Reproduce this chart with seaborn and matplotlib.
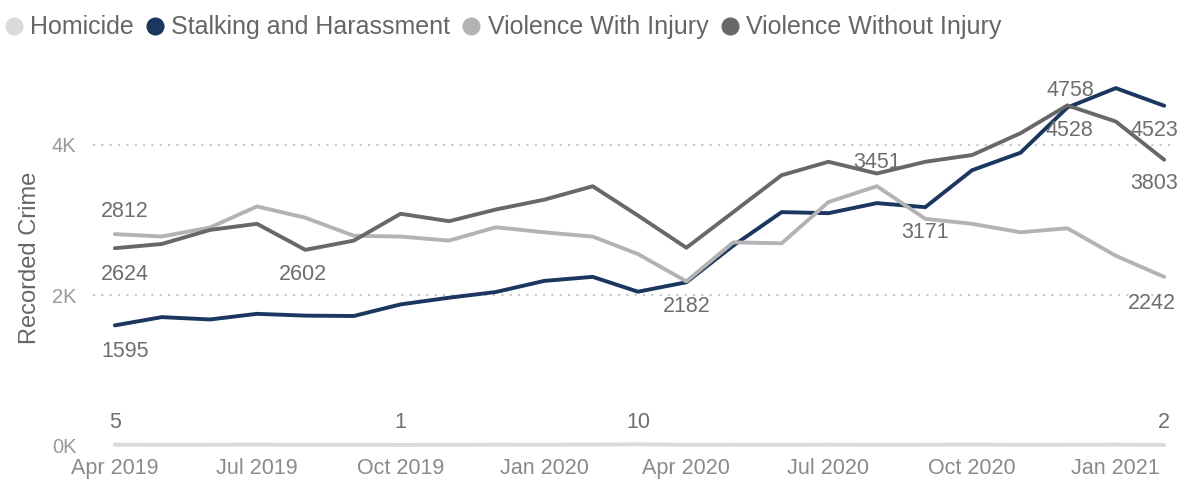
"""Recorded crime by month, four offence groups (Apr 2019 - Feb 2021)."""
import pandas as pd
import matplotlib
matplotlib.use("Agg")
import matplotlib.pyplot as plt
import matplotlib.dates as mdates
from matplotlib.lines import Line2D
from matplotlib.ticker import FuncFormatter
import seaborn as sns

# ------------------------------------------------------------------ #
#  Data                                                               #
# ------------------------------------------------------------------ #
months = pd.date_range("2019-04-01", periods=23, freq="MS")

homicide = [5, 3, 4, 6, 2, 4, 1, 3, 5, 4, 6, 10, 3, 4, 2, 5, 3, 4, 6, 3, 4, 5, 2]
stalking = [1595, 1705, 1674, 1749, 1725, 1720, 1875, 1964, 2040, 2188, 2242, 2044,
            2170, 2658, 3105, 3091, 3225, 3171, 3664, 3897, 4500, 4758, 4523]
violence_with_injury = [2812, 2780, 2900, 3181, 3030, 2790, 2779, 2725, 2903, 2836,
                        2779, 2546, 2182, 2702, 2689, 3239, 3451, 3016, 2949, 2836,
                        2890, 2523, 2242]
violence_without_injury = [2624, 2680, 2868, 2949, 2602, 2725, 3083, 2984, 3140, 3271,
                           3450, 3060, 2630, 3105, 3597, 3776, 3620, 3776, 3866, 4157,
                           4528, 4313, 3803]

series_names = ["Homicide", "Stalking and Harassment",
                "Violence With Injury", "Violence Without Injury"]
series_values = [homicide, stalking, violence_with_injury, violence_without_injury]
palette = {
    "Homicide": "#dadada",
    "Stalking and Harassment": "#1b365f",
    "Violence With Injury": "#b3b3b3",
    "Violence Without Injury": "#686868",
}

# (series, month index, dx px, dy px) -- labels shown on the chart
data_labels = [
    ("Homicide", 0, 0, 22), ("Homicide", 6, 0, 22),
    ("Homicide", 11, 0, 22), ("Homicide", 22, 0, 22),
    ("Violence With Injury", 0, 10, 23), ("Violence Without Injury", 0, 10, -26),
    ("Stalking and Harassment", 0, 10, -26), ("Violence Without Injury", 4, -2, -25),
    ("Violence With Injury", 12, 0, -25), ("Violence With Injury", 16, 0, 24),
    ("Stalking and Harassment", 17, 0, -25), ("Stalking and Harassment", 21, -45, -2),
    ("Violence Without Injury", 20, 2, -25), ("Stalking and Harassment", 22, -10, -25),
    ("Violence Without Injury", 22, -10, -24), ("Violence With Injury", 22, -12, -27),
]

df = pd.concat(
    [pd.DataFrame({"Month": months, "Series": name, "Crimes": vals})
     for name, vals in zip(series_names, series_values)],
    ignore_index=True,
)

# ------------------------------------------------------------------ #
#  Plot                                                               #
# ------------------------------------------------------------------ #
sns.set_theme(style="white")
plt.rcParams["font.family"] = ["Liberation Sans", "DejaVu Sans"]

fig = plt.figure(figsize=(11.84, 4.8), dpi=100)
ax = fig.add_axes([93 / 1184, 25 / 480, (1172 - 93) / 1184, 395 / 480])

sns.lineplot(data=df, x="Month", y="Crimes", hue="Series", hue_order=series_names,
             palette=palette, linewidth=2.8, legend=False, ax=ax)

for name, idx, dx, dy in data_labels:
    val = series_values[series_names.index(name)][idx]
    ax.annotate(f"{val}", xy=(months[idx], val), xytext=(dx, dy),
                textcoords="offset pixels", ha="center", va="center",
                fontsize=15.5, color="#6e6e6e")

ax.set_xlim(months[0] - pd.Timedelta(days=14), months[-1] + pd.Timedelta(days=5))
ax.set_ylim(-133, 5133)

ax.set_yticks([0, 2000, 4000])
ax.yaxis.set_major_formatter(FuncFormatter(lambda v, _: f"{int(v / 1000)}K"))
ax.set_xticks(months[::3])
ax.xaxis.set_major_formatter(mdates.DateFormatter("%b %Y"))

ax.yaxis.grid(True, linestyle=(0, (1, 3)), color="#c8c8c8", linewidth=1.5)
ax.get_ygridlines()[0].set_visible(False)
ax.xaxis.grid(False)
for s in ax.spines.values():
    s.set_visible(False)

ax.tick_params(axis="y", length=0, pad=12, labelsize=14.5, labelcolor="#999999")
ax.tick_params(axis="x", length=0, pad=2, labelsize=15.5, labelcolor="#8a8a8a")
ax.set_xlabel("")
ax.set_ylabel("Recorded Crime", fontsize=17, color="#666666", labelpad=8)

handles = [Line2D([], [], marker="o", linestyle="none", markersize=12,
                  color=palette[n]) for n in series_names]
fig.legend(handles, series_names, loc="upper left", bbox_to_anchor=(-0.018, 1.015),
           ncol=4, frameon=False, fontsize=18, handletextpad=0.15,
           columnspacing=0.35, handlelength=1.0, labelcolor="#666666")

fig.savefig("out.png", dpi=100)
plt.close(fig)
